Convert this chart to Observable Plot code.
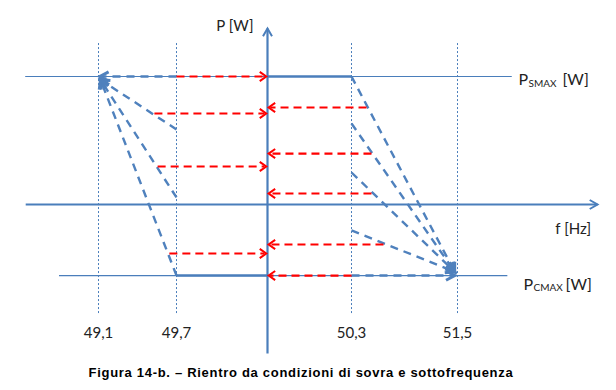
<!DOCTYPE html>
<html><head><meta charset="utf-8">
<script src="https://cdn.jsdelivr.net/npm/d3@7"></script>
<script src="https://cdn.jsdelivr.net/npm/@observablehq/plot@0.6"></script>
<style>
body{margin:0;background:#fff;}
#chart svg{display:block;}
#cap{width:602px;padding-top:10px;height:24px;line-height:14px;text-align:center;font-family:"Liberation Sans",Arial,sans-serif;font-weight:bold;font-size:13px;letter-spacing:0.7px;color:#000;}
</style></head><body><div id="chart"></div><div id="cap">Figura 14-b. – Rientro da condizioni di sovra e sottofrequenza</div>
<script>
// Frequency ticks (Hz) and labels
const freqTicks = [49.1, 49.7, 50.3, 51.5];
const freqLabels = ["49,1", "49,7", "50,3", "51,5"];
const fNominal = 50;
// Power levels (relative to PSMAX)
const pSmax = 1;
const pCmax = -0.555;
// Axis extents
const fAxisRange = [48.54, 53.085];
const pAxisRange = [-1.164, 1.375];
const dottedRange = [-0.852, 1.266];
const smaxLineRange = [48.54, 52.12];
const cmaxLineRange = [48.8, 52.07];
// Red return arrows, left side (start f, P level) -> towards f nominal
const redLeftStartF = [49.7, 49.53, 49.555, 49.645];
const redLeftP = [1, 0.711, 0.297, -0.383];
// Red return arrows, right side (start f, P level) -> towards f nominal
const redRightStartF = [50.47, 50.526, 50.526, 50.662, 50.3];
const redRightP = [0.758, 0.398, 0.086, -0.3125, -0.555];
// Blue dashed ramps, left side: start at 49.7 Hz with P level, end at vertex
const blueLeftStartP = [0.586, 0.055, -0.555];
const blueLeftVertex = {f: 49.115, p: 0.975};
const blueLeftHoriz = {f1: 49.7, f2: 49.11, p: 1};
// Blue dashed ramps, right side: start at 50.3 Hz, end at vertex
const blueRightStartP = [1, 0.633, 0.25, -0.203];
const blueRightVertex = {f: 51.468, p: -0.525};
const blueRightHoriz = {f1: 50.3, f2: 51.47, p: -0.555};
// Label texts
const limitLabels = ["SMAX", "CMAX"];
const limitLabelF = [52.19, 52.247];

// scale definition (piecewise schematic frequency axis)
const xDomain = [49.1, 49.7, 50, 50.3, 51.5];
const xRange = [98, 176, 267, 351, 457];
const yDomain = [0, 1];
const yRange = [204, 76];
const xs = d3.scaleLinear(xDomain, xRange);
const ys = d3.scaleLinear(yDomain, yRange);
const screenAngle = (x1, y1, x2, y2) => Math.atan2(xs(x2) - xs(x1), -(ys(y2) - ys(y1))) * 180 / Math.PI;

const blue = "#4A7EBB";
const blueD = "#4F81BD";
const red = "#FF0000";
const txt = "#222";

const redLeft = redLeftStartF.map((f, i) => ({f, p: redLeftP[i]}));
const redRight = redRightStartF.map((f, i) => ({f, p: redRightP[i]}));
const blueLeft = blueLeftStartP.map(p => ({f1: 49.7, p1: p, f2: blueLeftVertex.f, p2: blueLeftVertex.p}));
const blueRight = blueRightStartP.map(p => ({f1: 50.3, p1: p, f2: blueRightVertex.f, p2: blueRightVertex.p}));
const blueAll = [...blueLeft, {f1: blueLeftHoriz.f1, p1: blueLeftHoriz.p, f2: blueLeftHoriz.f2, p2: blueLeftHoriz.p},
  ...blueRight, {f1: blueRightHoriz.f1, p1: blueRightHoriz.p, f2: blueRightHoriz.f2, p2: blueRightHoriz.p}];
blueAll.forEach(d => d.angle = screenAngle(d.f1, d.p1, d.f2, d.p2));
redLeft.forEach(d => d.angle = screenAngle(d.f, d.p, fNominal, d.p));
redRight.forEach(d => d.angle = screenAngle(d.f, d.p, fNominal, d.p));

// open chevron symbol, tip at origin, pointing up
const chevron = (w, half) => ({
  draw(ctx) {
    const a = half * Math.PI / 180;
    ctx.moveTo(-w * Math.sin(a), w * Math.cos(a));
    ctx.lineTo(0, 0);
    ctx.lineTo(w * Math.sin(a), w * Math.cos(a));
  }
});

const font = "Lato, 'Open Sans', sans-serif";

const chart = Plot.plot({
  width: 616, height: 356,
  marginTop: 0, marginBottom: 0, marginLeft: 0, marginRight: 0,
  x: {type: "linear", domain: xDomain, range: xRange, axis: null},
  y: {type: "linear", domain: yDomain, range: yRange, axis: null},
  style: {background: "#fff", fontFamily: font},
  marks: [
    // dotted verticals
    Plot.ruleX(freqTicks, {x: d => d, y1: dottedRange[0], y2: dottedRange[1], stroke: blue, strokeWidth: 1, strokeDasharray: "2,2"}),
    // PSMAX / PCMAX lines
    Plot.ruleY([pSmax], {y: d => d, x1: smaxLineRange[0], x2: smaxLineRange[1], stroke: blue, strokeWidth: 1.2}),
    Plot.ruleY([pCmax], {y: d => d, x1: cmaxLineRange[0], x2: cmaxLineRange[1], stroke: blue, strokeWidth: 1.2}),
    // axes
    Plot.link([0], {x1: fAxisRange[0], x2: fAxisRange[1], y1: 0, y2: 0, stroke: blue, strokeWidth: 2.2}),
    Plot.link([0], {x1: fNominal, x2: fNominal, y1: pAxisRange[0], y2: pAxisRange[1], stroke: blue, strokeWidth: 2.2}),
    Plot.dot([90], {x: fAxisRange[1], y: 0, rotate: d => d, symbol: chevron(9, 30), stroke: blue, fill: "none", strokeWidth: 2}),
    Plot.dot([0], {x: fNominal, y: pAxisRange[1], rotate: d => d, symbol: chevron(9, 30), stroke: blue, fill: "none", strokeWidth: 2}),
    // thick solid segments
    Plot.link([pSmax], {x1: fNominal, x2: 50.3, y1: d => d, y2: d => d, stroke: blue, strokeWidth: 2.6}),
    Plot.link([pCmax], {x1: 49.7, x2: fNominal, y1: d => d, y2: d => d, stroke: blue, strokeWidth: 2.6}),
    // blue dashed ramps
    Plot.link(blueAll, {x1: "f1", y1: "p1", x2: "f2", y2: "p2", stroke: blueD, strokeWidth: 2.4, strokeDasharray: "8,6"}),
    Plot.dot(blueAll, {x: "f2", y: "p2", rotate: "angle", symbol: chevron(10, 28), stroke: blueD, fill: "none", strokeWidth: 3}),
    // red return arrows
    Plot.link(redLeft, {x1: "f", x2: fNominal - 0.01, y1: "p", y2: "p", stroke: red, strokeWidth: 2.2, strokeDasharray: "8,5"}),
    Plot.dot(redLeft, {x: fNominal - 0.004, y: "p", rotate: "angle", symbol: chevron(8, 35), stroke: red, fill: "none", strokeWidth: 2}),
    Plot.link(redRight, {x1: "f", x2: fNominal + 0.01, y1: "p", y2: "p", stroke: red, strokeWidth: 2.2, strokeDasharray: "8,5"}),
    Plot.dot(redRight, {x: fNominal + 0.004, y: "p", rotate: "angle", symbol: chevron(8, 35), stroke: red, fill: "none", strokeWidth: 2}),
    // tick labels
    Plot.text(freqTicks, {x: d => d, y: -1.008, text: (d, i) => freqLabels[i], fontSize: 15, fill: txt}),
    // axis labels
    Plot.text(["P [W]"], {x: fNominal, y: 1.39, text: d => d, textAnchor: "end", dx: -14, fontSize: 15, fill: txt}),
    Plot.text(["f [Hz]"], {x: 52.81, y: -0.195, text: d => d, fontSize: 15, fill: txt}),
    // PSMAX label
    Plot.text(["P"], {x: limitLabelF[0], y: pSmax, text: d => d, textAnchor: "start", dy: 3, fontSize: 16, fill: txt}),
    Plot.text([limitLabels[0]], {x: limitLabelF[0], y: pSmax, text: d => d, textAnchor: "start", dx: 10, dy: 7, fontSize: 10, fill: txt}),
    Plot.text(["[W]"], {x: limitLabelF[0], y: pSmax, text: d => d, textAnchor: "start", dx: 44, dy: 3, fontSize: 16, fill: txt}),
    // PCMAX label
    Plot.text(["P"], {x: limitLabelF[1], y: pCmax, text: d => d, textAnchor: "start", dy: 9, fontSize: 16, fill: txt}),
    Plot.text([limitLabels[1]], {x: limitLabelF[1], y: pCmax, text: d => d, textAnchor: "start", dx: 10, dy: 12, fontSize: 10, fill: txt}),
    Plot.text(["[W]"], {x: limitLabelF[1], y: pCmax, text: d => d, textAnchor: "start", dx: 42, dy: 9, fontSize: 16, fill: txt})
  ]
});
document.getElementById("chart").append(chart);
</script></body></html>
